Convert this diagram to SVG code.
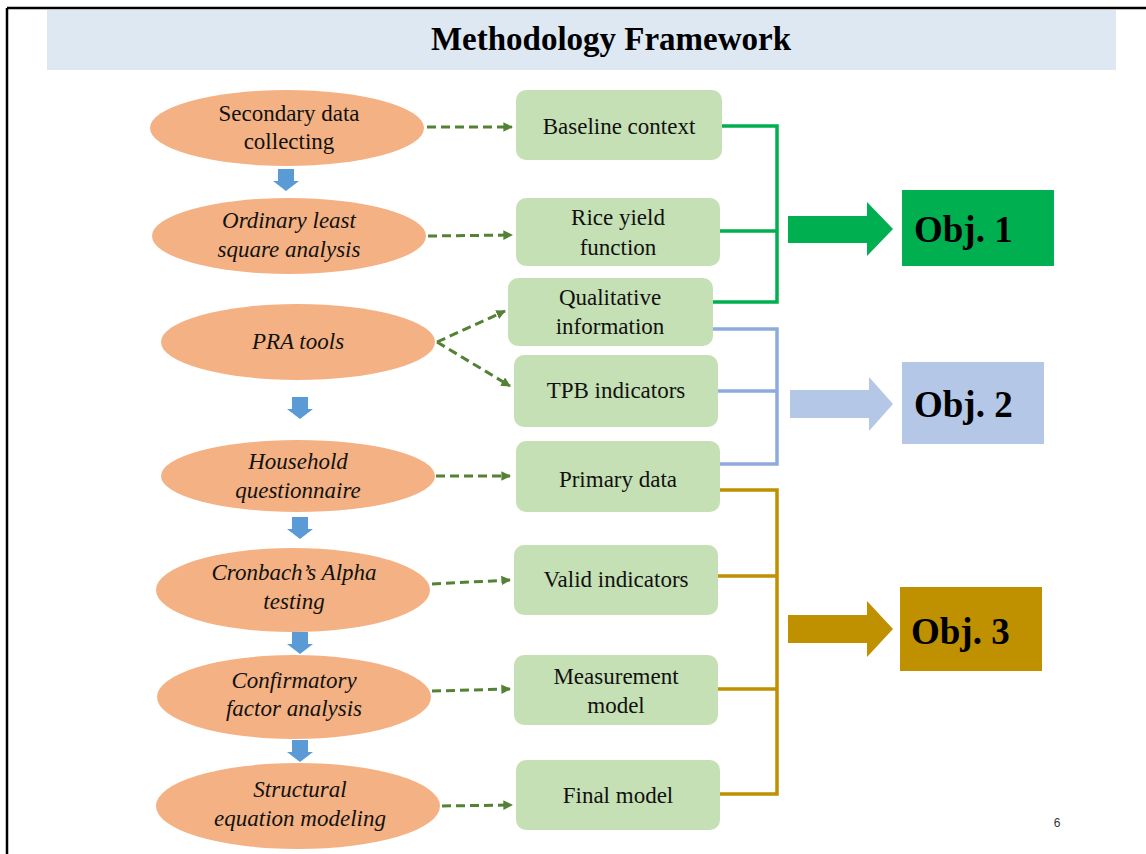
<svg xmlns="http://www.w3.org/2000/svg" width="1146" height="854" viewBox="0 0 1146 854">
<defs>
<style>
.ell{fill:#F4B183;}
.box{fill:#C5E0B4;}
.t{font-size:23px;fill:#111;text-anchor:middle;}
.i{font-style:italic;}
.dash{stroke:#548235;stroke-width:3;stroke-dasharray:9,5;fill:none;marker-end:url(#ah);}
.down{fill:#5B9BD5;}
.g{stroke:#00B050;stroke-width:3.5;fill:none;}
.b{stroke:#8FAADC;stroke-width:3.5;fill:none;}
.o{stroke:#BF9000;stroke-width:3.5;fill:none;}
.obj{font-size:37px;font-weight:bold;fill:#000;}
</style>
<marker id="ah" viewBox="0 0 10 10" refX="9" refY="5" markerWidth="3.2" markerHeight="3.2" orient="auto" markerUnits="strokeWidth">
<path d="M0,0 L10,5 L0,10 z" fill="#548235"/>
</marker>
</defs>
<rect width="1146" height="854" fill="#fff"/>
<!-- frame -->
<line x1="7" y1="8" x2="1146" y2="8" stroke="#000" stroke-width="2.5"/>
<line x1="7" y1="8" x2="7" y2="854" stroke="#000" stroke-width="2.5"/>
<g font-family="'Liberation Serif', 'Times New Roman', serif">
<!-- title -->
<g id="title">
<rect x="47" y="10" width="1069" height="60" fill="#DEE8F3"/>
<text x="611" y="50" font-size="33" font-weight="bold" text-anchor="middle" fill="#000">Methodology Framework</text>
</g>
<!-- ellipses -->
<g id="e1"><ellipse class="ell" cx="287" cy="128" rx="137" ry="38"/><text class="t" x="289" y="121">Secondary data</text><text class="t" x="289" y="149">collecting</text></g>
<g id="e2"><ellipse class="ell" cx="289" cy="236" rx="137" ry="38"/><text class="t i" x="289" y="228">Ordinary least</text><text class="t i" x="289" y="257">square analysis</text></g>
<g id="e3"><ellipse class="ell" cx="298" cy="342" rx="137" ry="38"/><text class="t i" x="298" y="349">PRA tools</text></g>
<g id="e4"><ellipse class="ell" cx="298" cy="476" rx="137" ry="36"/><text class="t i" x="298" y="469">Household</text><text class="t i" x="298" y="498">questionnaire</text></g>
<g id="e5"><ellipse class="ell" cx="293" cy="590" rx="137" ry="42"/><text class="t i" x="294" y="580">Cronbach’s Alpha</text><text class="t i" x="294" y="609">testing</text></g>
<g id="e6"><ellipse class="ell" cx="294" cy="697" rx="137" ry="42"/><text class="t i" x="294" y="688">Confirmatory</text><text class="t i" x="294" y="716">factor analysis</text></g>
<g id="e7"><ellipse class="ell" cx="298" cy="806" rx="142" ry="43"/><text class="t i" x="300" y="797">Structural</text><text class="t i" x="300" y="826">equation modeling</text></g>
<!-- boxes -->
<g id="b1"><rect class="box" x="516" y="90" width="206" height="70" rx="10"/><text class="t" x="619" y="134">Baseline  context</text></g>
<g id="b2"><rect class="box" x="516" y="198" width="204" height="68" rx="10"/><text class="t" x="618" y="225">Rice yield</text><text class="t" x="618" y="255">function</text></g>
<g id="b3"><rect class="box" x="508" y="278" width="205" height="68" rx="10"/><text class="t" x="610" y="305">Qualitative</text><text class="t" x="610" y="334">information</text></g>
<g id="b4"><rect class="box" x="514" y="355" width="204" height="72" rx="10"/><text class="t" x="616" y="398">TPB indicators</text></g>
<g id="b5"><rect class="box" x="516" y="441" width="204" height="71" rx="10"/><text class="t" x="618" y="487">Primary  data</text></g>
<g id="b6"><rect class="box" x="514" y="545" width="204" height="70" rx="10"/><text class="t" x="616" y="587">Valid indicators</text></g>
<g id="b7"><rect class="box" x="514" y="655" width="204" height="70" rx="10"/><text class="t" x="616" y="684">Measurement</text><text class="t" x="616" y="713">model</text></g>
<g id="b8"><rect class="box" x="516" y="760" width="204" height="70" rx="10"/><text class="t" x="618" y="803">Final model</text></g>
<!-- objectives -->
<g id="obj1"><rect x="902" y="190" width="152" height="76" fill="#00B050"/><text class="obj" x="914" y="242">Obj. 1</text></g>
<g id="obj2"><rect x="902" y="362" width="142" height="82" fill="#B4C7E7"/><text class="obj" x="914" y="417">Obj. 2</text></g>
<g id="obj3"><rect x="900" y="587" width="142" height="84" fill="#BF9000"/><text class="obj" x="911" y="644">Obj. 3</text></g>
</g>
<!-- connectors -->
<g id="connectors">
<line class="dash" x1="427" y1="127" x2="512" y2="127"/>
<line class="dash" x1="428" y1="236" x2="512" y2="235"/>
<line class="dash" x1="437" y1="342" x2="505" y2="311"/>
<line class="dash" x1="437" y1="342" x2="510" y2="386"/>
<line class="dash" x1="436" y1="476" x2="510" y2="476"/>
<line class="dash" x1="432" y1="584" x2="510" y2="580"/>
<line class="dash" x1="432" y1="691" x2="510" y2="689"/>
<line class="dash" x1="442" y1="806" x2="512" y2="805"/>
<!-- blue down arrows -->
<path class="down" d="M278,169 H294 V181 H299 L286,191 L273,181 H278 Z"/>
<path class="down" d="M292,397 H308 V409 H313 L300,419 L287,409 H292 Z"/>
<path class="down" d="M292,517 H308 V529 H313 L300,539 L287,529 H292 Z"/>
<path class="down" d="M292,632 H308 V644 H313 L300,654 L287,644 H292 Z"/>
<path class="down" d="M292,740 H308 V752 H313 L300,762 L287,752 H292 Z"/>
<!-- brackets -->
<path class="g" d="M722,126 H777 V302 H713 M720,231 H777"/>
<path class="b" d="M713,329 H777 V464 H720 M718,391 H777"/>
<path class="o" d="M720,490 H777 V794 H720 M718,576 H777 M718,689 H777"/>
<!-- big arrows -->
<path d="M788,216 H867 V202 L893,229 L867,256 V243 H788 Z" fill="#00B050"/>
<path d="M790,390 H869 V377 L893,404 L869,431 V418 H790 Z" fill="#B4C7E7"/>
<path d="M788,615 H867 V601 L893,629 L867,657 V643 H788 Z" fill="#BF9000"/>
</g>
<text x="1057" y="827" font-family="'Liberation Sans', Arial, sans-serif" font-size="12" text-anchor="middle" fill="#333">6</text>
</svg>
